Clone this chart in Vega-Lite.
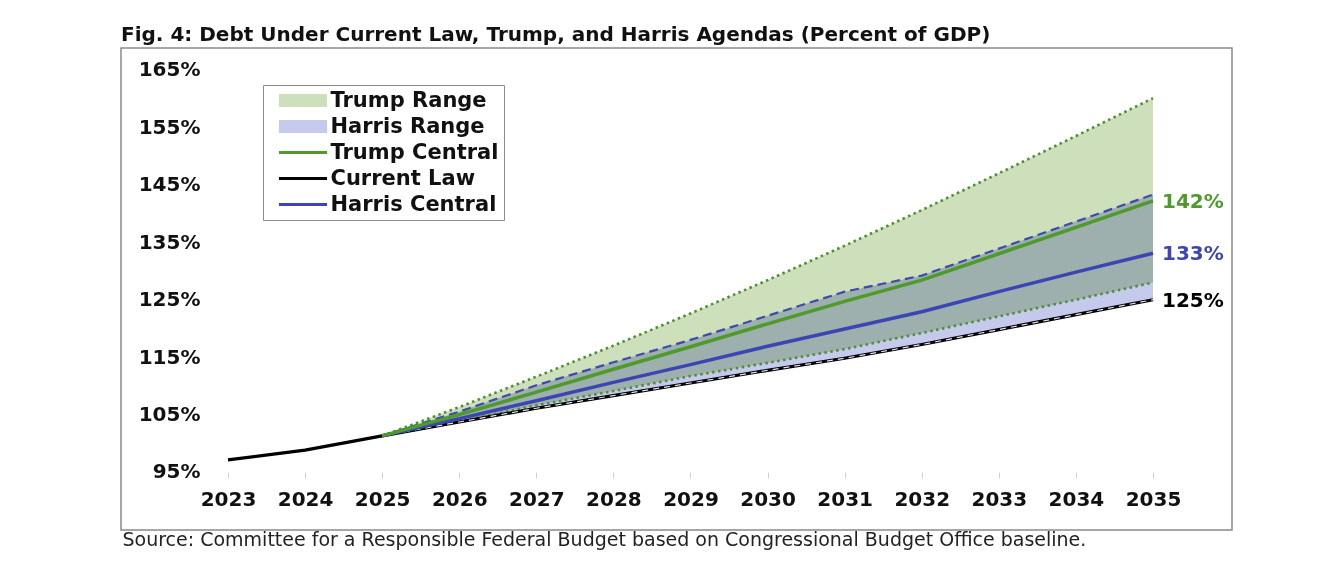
{
  "$schema": "https://vega.github.io/schema/vega-lite/v6.json",
  "autosize": {"type": "none"},
  "width": 1111,
  "height": 482,
  "padding": {"left": 121, "top": 48, "right": 94, "bottom": 36},
  "background": "white",
  "title": {
    "text": "Fig. 4: Debt Under Current Law, Trump, and Harris Agendas (Percent of GDP)",
    "anchor": "start",
    "font": "DejaVu Sans",
    "fontSize": 20,
    "fontWeight": "bold",
    "color": "#111111",
    "offset": 6,
    "dy": 19,
    "baseline": "alphabetic"
  },
  "config": {
    "view": {"stroke": "#8a8a8a", "strokeWidth": 1.5},
    "legend": {
      "labelFont": "DejaVu Sans",
      "labelFontWeight": "bold",
      "labelFontSize": 21,
      "labelColor": "#111111",
      "labelLimit": 300
    }
  },
  "datasets": {
    "debt": [
      {"year": 2023, "cl": 97.1, "tc": null, "hc": null, "tlo": null, "thi": null, "hlo": null, "hhi": null},
      {"year": 2024, "cl": 98.8, "tc": null, "hc": null, "tlo": null, "thi": null, "hlo": null, "hhi": null},
      {"year": 2025, "cl": 101.3, "tc": 101.3, "hc": 101.3, "tlo": 101.3, "thi": 101.3, "hlo": 101.3, "hhi": 101.3},
      {"year": 2026, "cl": 103.7, "tc": 105.0, "hc": 104.3, "tlo": 103.8, "thi": 106.3, "hlo": 103.7, "hhi": 105.5},
      {"year": 2027, "cl": 106.1, "tc": 108.9, "hc": 107.4, "tlo": 106.6, "thi": 111.6, "hlo": 106.1, "hhi": 110.1},
      {"year": 2028, "cl": 108.3, "tc": 112.9, "hc": 110.6, "tlo": 109.1, "thi": 117.0, "hlo": 108.3, "hhi": 114.1},
      {"year": 2029, "cl": 110.5, "tc": 116.8, "hc": 113.7, "tlo": 111.7, "thi": 122.6, "hlo": 110.5, "hhi": 118.0},
      {"year": 2030, "cl": 112.7, "tc": 120.8, "hc": 116.9, "tlo": 114.0, "thi": 128.4, "hlo": 112.7, "hhi": 122.2},
      {"year": 2031, "cl": 114.8, "tc": 124.7, "hc": 119.9, "tlo": 116.4, "thi": 134.4, "hlo": 114.8, "hhi": 126.4},
      {"year": 2032, "cl": 117.2, "tc": 128.4, "hc": 122.9, "tlo": 119.2, "thi": 140.6, "hlo": 117.2, "hhi": 129.2},
      {"year": 2033, "cl": 119.8, "tc": 133.0, "hc": 126.4, "tlo": 122.1, "thi": 147.0, "hlo": 119.8, "hhi": 133.9},
      {"year": 2034, "cl": 122.4, "tc": 137.6, "hc": 129.8, "tlo": 125.0, "thi": 153.5, "hlo": 122.4, "hhi": 138.6},
      {"year": 2035, "cl": 125.0, "tc": 142.2, "hc": 133.1, "tlo": 128.0, "thi": 160.1, "hlo": 125.0, "hhi": 143.3}
    ],
    "grid": [
      {"pct": 95}, {"pct": 105}, {"pct": 115}, {"pct": 125},
      {"pct": 135}, {"pct": 145}, {"pct": 155}, {"pct": 165}
    ],
    "labels": [
      {"year": 2035, "value": 142.2, "series": "Trump Central", "label": "142%"},
      {"year": 2035, "value": 133.1, "series": "Harris Central", "label": "133%"},
      {"year": 2035, "value": 125.0, "series": "Current Law", "label": "125%"}
    ]
  },
  "encoding": {
    "x": {
      "field": "year",
      "type": "quantitative",
      "scale": {"domain": [2021.612, 2036.025], "nice": false, "zero": false},
      "axis": {
        "values": [2023, 2024, 2025, 2026, 2027, 2028, 2029, 2030, 2031, 2032, 2033, 2034, 2035],
        "format": "d",
        "grid": false,
        "domain": false,
        "ticks": true,
        "tickColor": "#d0d0d0",
        "tickSize": 6,
        "offset": -58,
        "labelPadding": 11,
        "labelFont": "DejaVu Sans",
        "labelFontWeight": "bold",
        "labelFontSize": 20,
        "labelColor": "#111111",
        "title": "Source: Committee for a Responsible Federal Budget based on Congressional Budget Office baseline.",
        "titleFont": "DejaVu Sans",
        "titleFontWeight": "normal",
        "titleFontSize": 19,
        "titleColor": "#222222",
        "titleAnchor": "start",
        "titleAlign": "left",
        "titleX": 1,
        "titleY": 73,
        "titleBaseline": "alphabetic"
      }
    }
  },
  "layer": [
    {
      "data": {"name": "debt"},
      "mark": {"type": "area", "opacity": 1},
      "encoding": {
        "y": {
          "field": "tlo",
          "type": "quantitative",
          "scale": {"domain": [84.9, 168.83], "nice": false, "zero": false},
          "axis": {
            "values": [95, 105, 115, 125, 135, 145, 155, 165],
            "labelExpr": "datum.value + '%'",
            "grid": false,
            "ticks": false,
            "domain": false,
            "offset": -81,
            "labelPadding": 2,
            "labelFont": "DejaVu Sans",
            "labelFontWeight": "bold",
            "labelFontSize": 20,
            "labelColor": "#111111",
            "title": null
          }
        },
        "y2": {"field": "thi"},
        "color": {
          "datum": "Trump Range",
          "type": "nominal",
          "title": null,
          "scale": {
            "domain": ["Trump Range", "Harris Range", "Trump Central", "Current Law", "Harris Central"],
            "range": ["#cde0bb", "#c5c9ec", "#4e9a2b", "#000000", "#3b45b3"]
          },
          "legend": {
            "title": null,
            "orient": "none",
            "legendX": 142,
            "legendY": 37,
            "padding": 5,
            "rowPadding": 4,
            "symbolSize": 169,
            "symbolOffset": 24.5,
            "labelOffset": 17,
            "strokeColor": "#8c8c8c",
            "fillColor": "white",
            "encoding": {
              "symbols": {
                "shape": {"value": {"expr": "(datum.value === 'Trump Range' || datum.value === 'Harris Range') ? 'M-3.7,-1H3.7V1H-3.7Z' : 'M-3.7,-0.22H3.7V0.22H-3.7Z'"}},
                "fill": {"value": {"expr": "scale('color', datum.value)"}},
                "stroke": {"value": "transparent"},
                "strokeWidth": {"value": 0},
                "opacity": {"value": 1},
                "fillOpacity": {"value": 1}
              }
            }
          }
        }
      }
    },
    {
      "data": {"name": "debt"},
      "mark": {"type": "area", "blend": "multiply"},
      "encoding": {
        "y": {"field": "hlo", "type": "quantitative"},
        "y2": {"field": "hhi"},
        "color": {"datum": "Harris Range", "type": "nominal", "title": null}
      }
    },
    {
      "data": {"name": "grid"},
      "mark": {"type": "rule", "color": "#d6d6d6", "strokeWidth": 1, "blend": "multiply"},
      "encoding": {
        "x": {"datum": 2023, "type": "quantitative"},
        "x2": {"datum": 2035},
        "y": {"field": "pct", "type": "quantitative"}
      }
    },
    {
      "data": {"name": "debt"},
      "mark": {"type": "line", "color": "#4f8f30", "strokeWidth": 2.6, "strokeDash": [2.5, 3.5], "strokeCap": "butt"},
      "encoding": {"y": {"field": "tlo", "type": "quantitative"}}
    },
    {
      "data": {"name": "debt"},
      "mark": {"type": "line", "color": "#4f8f30", "strokeWidth": 2.6, "strokeDash": [2.5, 3.5], "strokeCap": "butt"},
      "encoding": {"y": {"field": "thi", "type": "quantitative"}}
    },
    {
      "data": {"name": "debt"},
      "mark": {"type": "line", "color": "#3d4aae", "strokeWidth": 2.2, "strokeDash": [9, 5]},
      "encoding": {"y": {"field": "hhi", "type": "quantitative"}}
    },
    {
      "data": {"name": "debt"},
      "mark": {"type": "line", "strokeWidth": 3.2},
      "encoding": {
        "y": {"field": "cl", "type": "quantitative"},
        "color": {"datum": "Current Law", "type": "nominal", "title": null}
      }
    },
    {
      "data": {"name": "debt"},
      "mark": {"type": "line", "color": "#e4e5f6", "strokeWidth": 1.2, "strokeDash": [6, 5]},
      "encoding": {"y": {"field": "hlo", "type": "quantitative"}}
    },
    {
      "data": {"name": "debt"},
      "mark": {"type": "line", "strokeWidth": 3.5},
      "encoding": {
        "y": {"field": "hc", "type": "quantitative"},
        "color": {"datum": "Harris Central", "type": "nominal", "title": null}
      }
    },
    {
      "data": {"name": "debt"},
      "mark": {"type": "line", "strokeWidth": 3.5},
      "encoding": {
        "y": {"field": "tc", "type": "quantitative"},
        "color": {"datum": "Trump Central", "type": "nominal", "title": null}
      }
    },
    {
      "data": {"name": "labels"},
      "mark": {"type": "text", "align": "left", "baseline": "middle", "dx": 9, "dy": 1, "font": "DejaVu Sans", "fontWeight": "bold", "fontSize": 20},
      "encoding": {
        "y": {"field": "value", "type": "quantitative"},
        "text": {"field": "label"},
        "color": {"field": "series", "type": "nominal", "title": null}
      }
    }
  ]
}
